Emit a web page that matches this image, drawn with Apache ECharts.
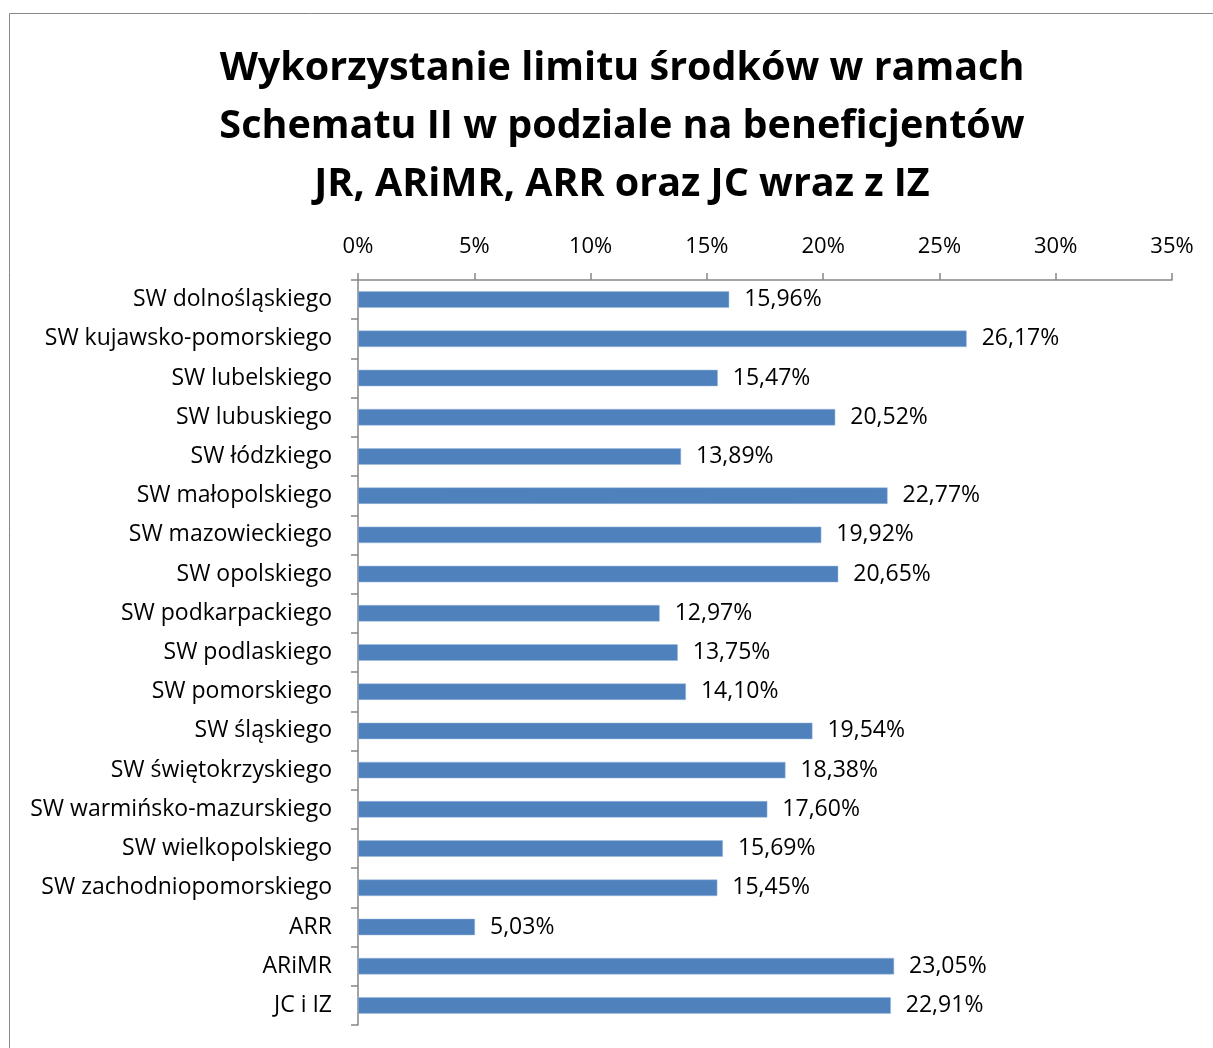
<!DOCTYPE html>
<html>
<head>
<meta charset="utf-8">
<script src="https://cdn.jsdelivr.net/npm/echarts@6/dist/echarts.min.js"></script>
<style>
  html, body { margin: 0; padding: 0; background: #fff; }
  #main { width: 1213px; height: 1048px; }
</style>
</head>
<body>
<div id="main"></div>
<script>
var categories = [
  'SW dolnośląskiego', 'SW kujawsko-pomorskiego', 'SW lubelskiego', 'SW lubuskiego',
  'SW łódzkiego', 'SW małopolskiego', 'SW mazowieckiego', 'SW opolskiego',
  'SW podkarpackiego', 'SW podlaskiego', 'SW pomorskiego', 'SW śląskiego',
  'SW świętokrzyskiego', 'SW warmińsko-mazurskiego', 'SW wielkopolskiego',
  'SW zachodniopomorskiego', 'ARR', 'ARiMR', 'JC i IZ'
];
var values = [
  15.96, 26.17, 15.47, 20.52, 13.89, 22.77, 19.92, 20.65, 12.97, 13.75,
  14.10, 19.54, 18.38, 17.60, 15.69, 15.45, 5.03, 23.05, 22.91
];
var titleLines = [
  'Wykorzystanie limitu środków w ramach',
  'Schematu II w podziale na beneficjentów',
  'JR, ARiMR, ARR oraz JC wraz z IZ'
];

var font = '"Open Sans", Lato, sans-serif';
var chart = echarts.init(document.getElementById('main'));

var option = {
  backgroundColor: '#fff',
  animation: false,
  graphic: [{
    type: 'rect',
    shape: { x: 9.5, y: 13.5, width: 1300, height: 1100 },
    style: { fill: 'none', stroke: '#888888', lineWidth: 1 }
  }],
  title: {
    text: titleLines.join('\n'),
    left: 617,
    top: 35,
    textAlign: 'center',
    textStyle: {
      fontFamily: font,
      fontSize: 39.5,
      fontWeight: 'bold',
      lineHeight: 58,
      color: '#000'
    }
  },
  grid: {
    left: 358,
    right: 41,
    top: 280,
    bottom: 23,
    containLabel: false
  },
  xAxis: {
    type: 'value',
    position: 'top',
    min: 0,
    max: 35,
    interval: 5,
    axisLine: { show: true, lineStyle: { color: '#868686', width: 1.5 } },
    axisTick: { show: true, length: 7, lineStyle: { color: '#868686', width: 1.5 } },
    splitLine: { show: false },
    axisLabel: {
      margin: 22,
      fontFamily: font,
      fontSize: 22,
      color: '#000',
      formatter: function (v) { return v + '%'; }
    }
  },
  yAxis: {
    type: 'category',
    inverse: true,
    data: categories,
    axisLine: { show: true, lineStyle: { color: '#868686', width: 1.5 } },
    axisTick: { show: true, length: 7, alignWithLabel: false, lineStyle: { color: '#868686', width: 1.5 } },
    axisLabel: {
      margin: 26,
      fontFamily: font,
      fontSize: 23,
      color: '#000'
    }
  },
  series: [{
    type: 'bar',
    data: values,
    barCategoryGap: '58%',
    itemStyle: {
      color: '#4F81BD',
      borderColor: '#9DB8DC',
      borderWidth: 0.5
    },
    label: {
      show: true,
      position: 'right',
      distance: 15,
      fontFamily: font,
      fontSize: 23,
      color: '#000',
      formatter: function (p) { return p.value.toFixed(2).replace('.', ',') + '%'; }
    }
  }]
};

chart.setOption(option);
</script>
</body>
</html>
